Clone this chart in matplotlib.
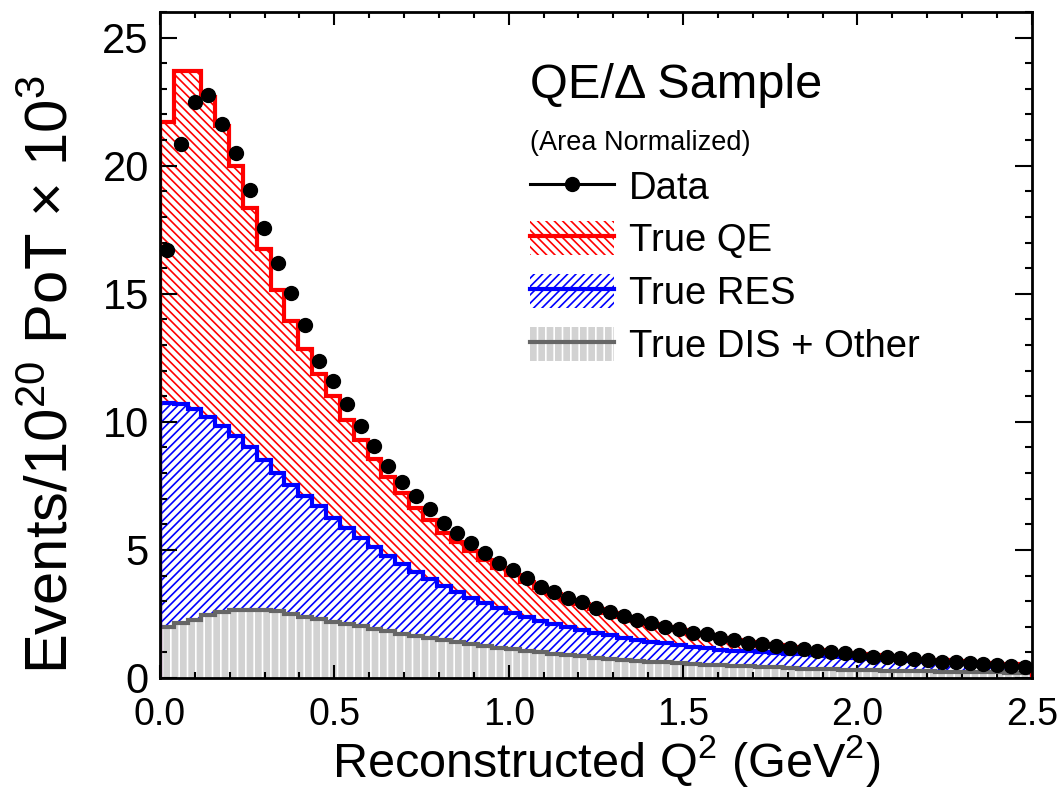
import numpy as np
import matplotlib
matplotlib.use('Agg')
import matplotlib.pyplot as plt
from matplotlib.patches import Patch
from matplotlib.lines import Line2D
from matplotlib.legend_handler import HandlerTuple
from matplotlib.ticker import MultipleLocator

plt.rcParams['font.family'] = ['Liberation Sans', 'DejaVu Sans']
plt.rcParams['mathtext.fontset'] = 'custom'
plt.rcParams['mathtext.rm'] = 'Liberation Sans'
plt.rcParams['mathtext.it'] = 'Liberation Sans:italic'
plt.rcParams['hatch.linewidth'] = 1.2

# ---------------- data ----------------
n_bins = 63
q2_range = (0.0, 2.5)

data_points = [16.72, 20.86, 22.47, 22.77, 21.64, 20.50, 19.04, 17.57, 16.22, 15.03,
               13.79, 12.36, 11.58, 10.70, 9.84, 9.04, 8.29, 7.67, 7.10, 6.60,
               6.07, 5.65, 5.26, 4.87, 4.48, 4.22, 3.89, 3.57, 3.37, 3.14,
               2.98, 2.72, 2.59, 2.42, 2.27, 2.14, 2.00, 1.90, 1.77, 1.70,
               1.55, 1.50, 1.35, 1.33, 1.25, 1.16, 1.12, 1.07, 1.03, 0.96,
               0.90, 0.83, 0.81, 0.77, 0.73, 0.70, 0.64, 0.61, 0.57, 0.55,
               0.51, 0.47, 0.42]

# top of stack (QE + RES + DIS)
stack_top_qe = [21.70, 23.68, 23.68, 22.70, 21.56, 19.97, 18.35, 16.75, 15.16, 13.92,
                12.84, 11.88, 10.99, 10.08, 9.30, 8.54, 7.86, 7.21, 6.63, 6.17,
                5.65, 5.30, 4.95, 4.60, 4.30, 4.02, 3.75, 3.50, 3.27, 3.06,
                2.87, 2.69, 2.53, 2.38, 2.24, 2.11, 1.99, 1.88, 1.77, 1.67,
                1.58, 1.49, 1.41, 1.34, 1.27, 1.20, 1.14, 1.08, 1.03, 0.98,
                0.93, 0.88, 0.84, 0.80, 0.76, 0.72, 0.69, 0.65, 0.62, 0.59,
                0.56, 0.53, 0.50]

# top of RES + DIS
stack_top_res = [10.72, 10.70, 10.50, 10.20, 9.85, 9.45, 9.00, 8.50, 8.00, 7.55,
                 7.10, 6.70, 6.25, 5.85, 5.45, 5.10, 4.75, 4.45, 4.15, 3.85,
                 3.60, 3.35, 3.12, 2.92, 2.73, 2.55, 2.38, 2.23, 2.10, 1.98,
                 1.87, 1.77, 1.67, 1.58, 1.50, 1.42, 1.35, 1.28, 1.22, 1.16,
                 1.11, 1.07, 1.04, 1.01, 0.98, 0.95, 0.92, 0.89, 0.86, 0.82,
                 0.79, 0.76, 0.73, 0.70, 0.67, 0.64, 0.61, 0.58, 0.55, 0.52,
                 0.50, 0.47, 0.45]

# DIS + other
stack_top_dis = [2.00, 2.15, 2.28, 2.45, 2.57, 2.64, 2.66, 2.65, 2.60, 2.50,
                 2.40, 2.30, 2.20, 2.10, 2.02, 1.92, 1.82, 1.72, 1.63, 1.55,
                 1.47, 1.40, 1.32, 1.25, 1.18, 1.12, 1.06, 1.00, 0.95, 0.90,
                 0.85, 0.80, 0.76, 0.72, 0.68, 0.64, 0.61, 0.58, 0.55, 0.52,
                 0.50, 0.47, 0.45, 0.43, 0.41, 0.39, 0.37, 0.36, 0.34, 0.33,
                 0.31, 0.30, 0.29, 0.28, 0.27, 0.26, 0.25, 0.24, 0.23, 0.22,
                 0.22, 0.21, 0.20]

legend_labels = ['Data', 'True QE', 'True RES', 'True DIS + Other']
x_ticks = [0.0, 0.5, 1.0, 1.5, 2.0, 2.5]
y_ticks = [0, 5, 10, 15, 20, 25]

# ---------------- plot ----------------
edges = np.linspace(q2_range[0], q2_range[1], n_bins + 1)
centers = 0.5 * (edges[:-1] + edges[1:])
zeros = np.zeros(n_bins)

RED, BLUE, GRAY_LINE, GRAY_FILL = '#ff0000', '#0000ff', '#666666', '#d2d2d2'
LW = 3.0
HATCH_QE = '\\' * 4
HATCH_RES = '/' * 4
HATCH_DIS = '||'

fig = plt.figure(figsize=(10.59, 7.88), dpi=100)
ax = fig.add_axes([0.151, 0.1396, 0.8234, 0.8452])

# fills
ax.stairs(stack_top_qe, edges, baseline=stack_top_res, fill=True,
          facecolor='white', edgecolor=RED, hatch=HATCH_QE, linewidth=0, zorder=1)
ax.stairs(stack_top_res, edges, baseline=stack_top_dis, fill=True,
          facecolor='white', edgecolor=BLUE, hatch=HATCH_RES, linewidth=0, zorder=1)
ax.stairs(stack_top_dis, edges, baseline=zeros, fill=True,
          facecolor=GRAY_FILL, edgecolor='white', hatch=HATCH_DIS, linewidth=0, zorder=1)

# outlines
ax.stairs(stack_top_dis, edges, color=GRAY_LINE, linewidth=LW, zorder=2)
ax.stairs(stack_top_res, edges, color=BLUE, linewidth=LW, zorder=2)
ax.stairs(stack_top_qe, edges, color=RED, linewidth=LW, zorder=2)
ax.vlines(edges[0], stack_top_res[0], stack_top_qe[0], color=RED, linewidth=LW, zorder=2)
ax.vlines(edges[0], stack_top_dis[0], stack_top_res[0], color=BLUE, linewidth=LW, zorder=2)
ax.vlines(edges[0], 0, stack_top_dis[0], color=GRAY_LINE, linewidth=LW, zorder=2)

# data
ax.plot(centers, data_points, 'o', color='black', markersize=10, zorder=5, clip_on=False)

ax.set_xlim(0, 2.5)
ax.set_ylim(0, 26)
ax.set_xticks(x_ticks)
ax.set_xticklabels([f'{t:.1f}' for t in x_ticks])
ax.set_yticks(y_ticks)
ax.xaxis.set_minor_locator(MultipleLocator(0.1))
ax.yaxis.set_minor_locator(MultipleLocator(1))

ax.tick_params(which='both', direction='in', top=True, right=True, width=1.5)
ax.tick_params(axis='y', which='major', length=12, labelsize=30, pad=8)
ax.tick_params(axis='y', which='minor', length=5)
ax.tick_params(axis='x', which='major', length=9.5, labelsize=27, pad=14)
ax.tick_params(axis='x', which='minor', length=4)
for s in ax.spines.values():
    s.set_linewidth(2)
    s.set_zorder(3)

ax.set_xlabel('Reconstructed Q$^{2}$ (GeV$^{2}$)', fontsize=35)
ax.xaxis.set_label_coords(0.512, -0.083)
ax.set_ylabel('Events/10$^{20}$ PoT × 10$^{3}$', fontsize=43)
ax.yaxis.set_label_coords(-0.092, 0.455)

# legend
ax.text(0.424, 0.89, 'QE/Δ Sample', transform=ax.transAxes, fontsize=35,
        ha='left', va='center')
ax.text(0.424, 0.803, '(Area Normalized)', transform=ax.transAxes, fontsize=19.5,
        ha='left', va='center')

handles = [
    Line2D([], [], color='black', marker='o', markersize=10, linewidth=2.2),
    (Patch(facecolor='white', edgecolor=RED, hatch=HATCH_QE, linewidth=0),
     Line2D([], [], color=RED, linewidth=LW)),
    (Patch(facecolor='white', edgecolor=BLUE, hatch=HATCH_RES, linewidth=0),
     Line2D([], [], color=BLUE, linewidth=LW)),
    (Patch(facecolor=GRAY_FILL, edgecolor='white', hatch=HATCH_DIS, linewidth=0),
     Line2D([], [], color=GRAY_LINE, linewidth=LW)),
]
ax.legend(handles, legend_labels, handler_map={tuple: HandlerTuple(ndivide=1, pad=0)},
          loc='upper left', bbox_to_anchor=(0.424, 0.765), frameon=False,
          fontsize=27.5, handlelength=2.2, handleheight=1.0, handletextpad=0.4,
          labelspacing=0.38, borderpad=0, borderaxespad=0)

fig.savefig('out.png', dpi=100)
